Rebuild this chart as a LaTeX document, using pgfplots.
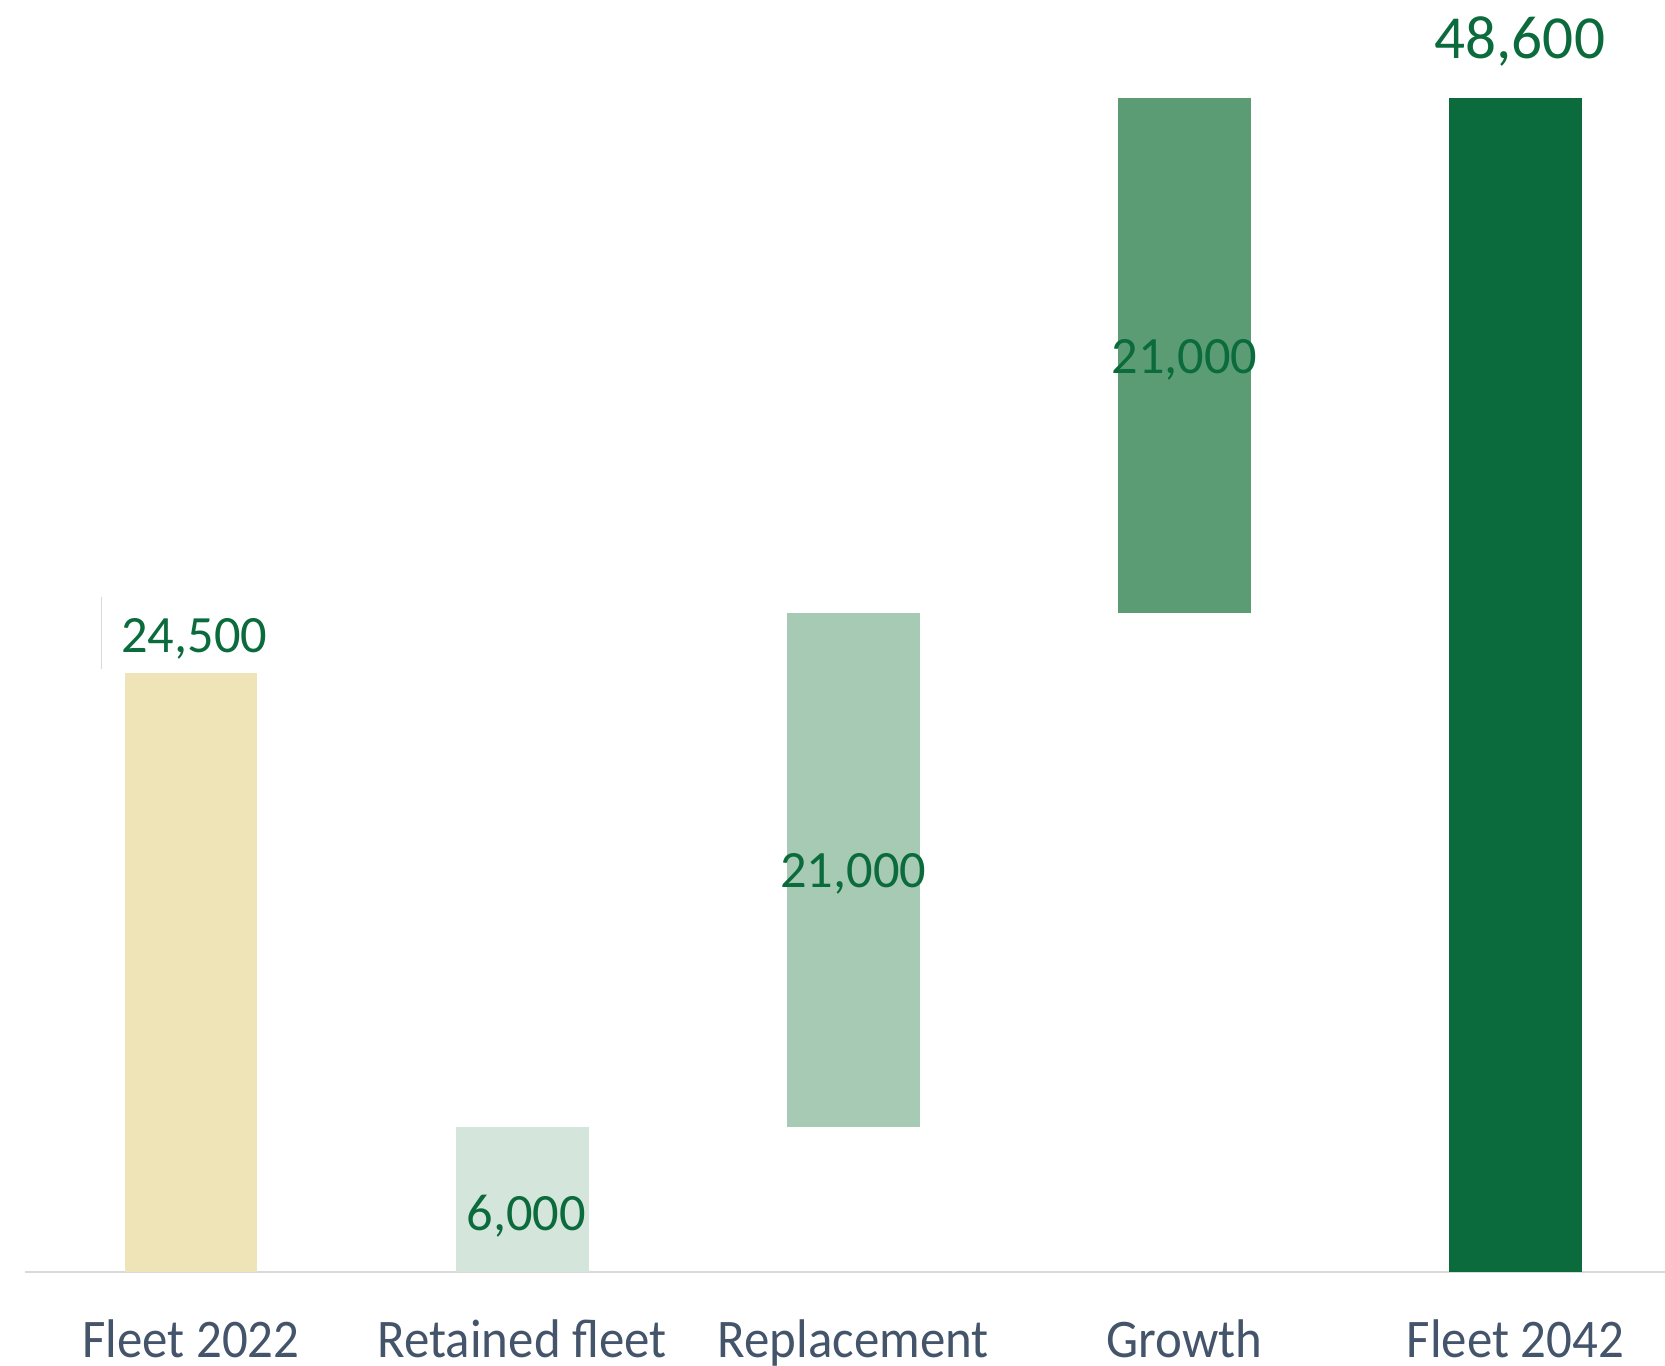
\documentclass[border=0pt]{standalone}
\usepackage{pgfplots}
\pgfplotsset{compat=1.18}
\usepackage{fontspec}
\setmainfont{Carlito}
\newfontfamily\tickfont[FakeStretch=0.935]{Carlito}
\definecolor{cF22}{HTML}{EFE4B7}
\definecolor{cRet}{HTML}{D4E5DC}
\definecolor{cRep}{HTML}{A6CAB4}
\definecolor{cGro}{HTML}{5B9C75}
\definecolor{cF42}{HTML}{0B6B3C}
\definecolor{txtg}{HTML}{0B6B3C}
\definecolor{tickc}{HTML}{44546A}
\definecolor{axc}{HTML}{D9D9D9}
\tikzset{vlab/.style={anchor=base, inner sep=0pt, text=txtg, font=\fontsize{13.1}{15}\selectfont}}
\begin{document}
\begin{tikzpicture}
\useasboundingbox (0,0) rectangle (416.25pt,341.25pt);
\begin{axis}[
  at={(6.375pt,23.25pt)}, anchor=south west,
  scale only axis, width=409.9pt, height=318pt,
  xmin=-0.5, xmax=4.452, ymin=0, ymax=52660,
  ybar stacked, bar width=33.2pt,
  axis x line=bottom, axis y line=none,
  x axis line style={draw=axc, line width=0.6pt, -},
  xtick={0,1,2,3,4}, major tick length=0pt,
  xticklabels={Fleet 2022, Retained fleet, Replacement, Growth, Fleet 2042},
  xticklabel style={anchor=base, yshift=-21.25pt, inner sep=0pt, text=tickc, font=\tickfont\fontsize{13.6}{15}\selectfont},
  clip=false,
]
\addplot[draw=none, fill=none] coordinates {(0,0) (1,0) (2,6000) (3,27300) (4,0)};
\addplot[draw=none, fill=cF22] coordinates {(0,24800) (1,0) (2,0) (3,0) (4,0)};
\addplot[draw=none, fill=cRet] coordinates {(0,0) (1,6000) (2,0) (3,0) (4,0)};
\addplot[draw=none, fill=cRep] coordinates {(0,0) (1,0) (2,21300) (3,0) (4,0)};
\addplot[draw=none, fill=cGro] coordinates {(0,0) (1,0) (2,0) (3,21300) (4,0)};
\addplot[draw=none, fill=cF42] coordinates {(0,0) (1,0) (2,0) (3,0) (4,48600)};
\coordinate (l0a) at (axis cs:-0.271,24965);
\coordinate (l0b) at (axis cs:-0.271,27945);
\coordinate (t0) at (axis cs:0.01,25630);
\coordinate (t1) at (axis cs:1.012,1706);
\coordinate (t2) at (axis cs:2,15906);
\coordinate (t3) at (axis cs:3,37185);
\coordinate (t4) at (axis cs:4.013,50240);
\end{axis}
\draw[axc, line width=0.4pt] (l0a) -- (l0b);
\node[vlab] at (t0) {24,500};
\node[vlab] at (t1) {6,000};
\node[vlab] at (t2) {21,000};
\node[vlab] at (t3) {21,000};
\node[vlab, font=\fontsize{15.3}{17}\selectfont] at (t4) {48,600};
\end{tikzpicture}
\end{document}
